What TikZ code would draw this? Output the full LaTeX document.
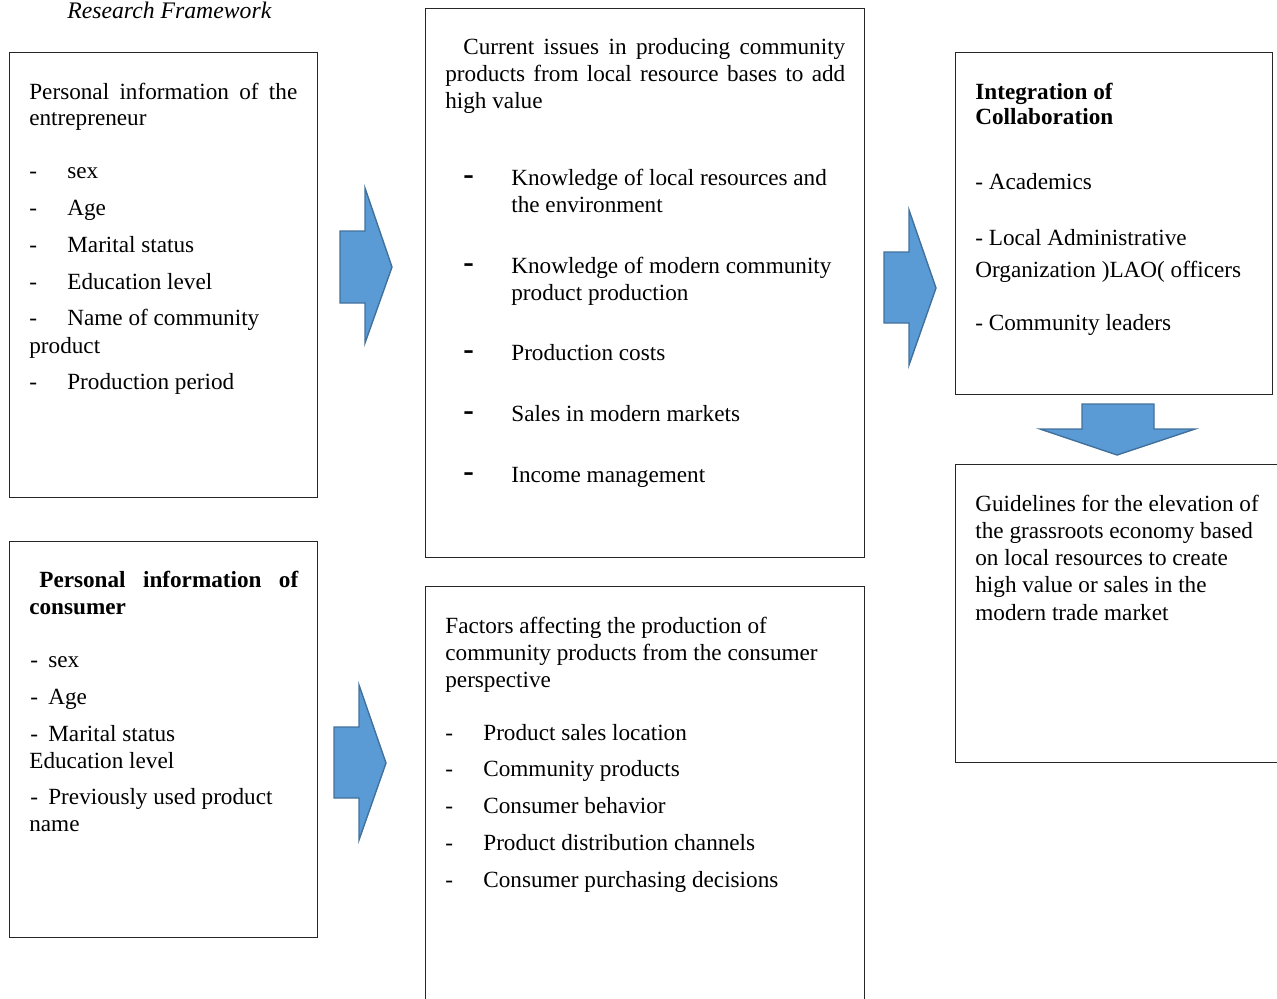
\documentclass[tikz,border=0pt]{standalone}
\usepackage{fontspec}
\setmainfont{Liberation Serif}
\definecolor{arrfill}{RGB}{91,155,213}
\definecolor{arredge}{RGB}{65,113,156}

\begin{document}
\begin{tikzpicture}[x=0.02cm,y=-0.02cm,
  box/.style={draw=black!85,line width=0.8pt,anchor=north west,inner sep=0},
  txt/.style={anchor=base west,inner sep=0,font=\fontsize{13.2}{15.4}\selectfont},
  btxt/.style={txt,font=\fontsize{13.2}{15.4}\selectfont\bfseries},
  bigdash/.style={anchor=base west,inner sep=0,font=\fontsize{18}{18}\selectfont\bfseries},
  blockarr/.style={fill=arrfill,draw=arredge,line width=0.8pt,line join=miter}]
\useasboundingbox (0,0) rectangle (1277,998);
\clip (0,0) rectangle (1277,998);

% Title
\node[txt,font=\fontsize{13.5}{15}\selectfont\itshape] (title) at (67,18) {Research Framework};

% Boxes
\node[box,minimum width=6.16cm,minimum height=8.9cm] (ent) at (9,52) {};
\node[box,minimum width=6.16cm,minimum height=7.92cm] (con) at (9,541) {};
\node[box,minimum width=8.78cm,minimum height=10.98cm] (iss) at (425,8) {};
\node[box,minimum width=8.78cm,minimum height=8.9cm] (fac) at (425,586) {};
\node[box,minimum width=6.34cm,minimum height=6.84cm] (integ) at (955,52) {};
\node[box,minimum width=6.8cm,minimum height=5.96cm] (guide) at (955,464) {};

% Entrepreneur
\node[txt] (enth1) at (29,99) {\makebox[5.36cm][s]{Personal information of the}};
\node[txt] (enth2) at (29,125) {entrepreneur};
\foreach \t/\y [count=\i] in {sex/178, Age/215, Marital status/252, Education level/289, Name of community/325, Production period/389} {
  \node[txt] (entd\i) at (29,\y) {-};
  \node[txt] (ent\i) at (67,\y) {\t};
}
\node[txt] (ent7) at (29,353) {product};

% Consumer
\node[txt] (conh1) at (39,587) {\makebox[5.18cm][s]{\bfseries Personal information of}};
\node[btxt] (conh2) at (29,614) {consumer};
\foreach \t/\y [count=\i] in {sex/667, Age/704, Marital status/741, Previously used product/804} {
  \node[txt] (cond\i) at (30,\y) {-};
  \node[txt] (con\i) at (48,\y) {\t};
}
\node[txt] (con5) at (29,768) {Education level};
\node[txt] (con6) at (29,831) {name};

% Current issues
\node[txt] (issh1) at (463,54) {\makebox[7.64cm][s]{Current issues in producing community}};
\node[txt] (issh2) at (445,81) {\makebox[8cm][s]{products from local resource bases to add}};
\node[txt] (issh3) at (445,108) {high value};
\foreach \t/\y [count=\i] in {Knowledge of local resources and/185, Knowledge of modern community/273, Production costs/360, Sales in modern markets/421, Income management/482} {
  \node[bigdash] (issd\i) at (463,\y-1) {-};
  \node[txt] (iss\i) at (511,\y) {\t};
}
\node[txt] (iss6) at (511,212) {the environment};
\node[txt] (iss7) at (511,300) {product production};

% Consumer factors
\foreach \t/\y [count=\i] in {Factors affecting the production of/633, community products from the consumer/660, perspective/687}
  \node[txt] (fach\i) at (445,\y) {\t};
\foreach \t/\y [count=\i] in {Product sales location/740, Community products/776, Consumer behavior/813, Product distribution channels/850, Consumer purchasing decisions/887} {
  \node[txt] (facd\i) at (445,\y) {-};
  \node[txt] (fac\i) at (483,\y) {\t};
}

% Integration
\node[btxt] (integh1) at (975,99) {Integration of};
\node[btxt] (integh2) at (975,124) {Collaboration};
\node[txt] (integ1) at (975,189) {- Academics};
\node[txt] (integ2) at (975,245) {- Local Administrative};
\node[txt] (integ3) at (975,277) {Organization )LAO( officers};
\node[txt] (integ4) at (975,330) {- Community leaders};

% Guidelines
\foreach \t/\y [count=\i] in {Guidelines for the elevation of/511, the grassroots economy based/538, on local resources to create/565, high value or sales in the/592, modern trade market/620}
  \node[txt] (guide\i) at (975,\y) {\t};

% Block arrows
\draw[blockarr] (340,231) -- (365,231) -- (365,188) -- (392,267) -- (365,343) -- (365,303) -- (340,303) -- cycle;
\draw[blockarr] (334,727) -- (359,727) -- (359,685) -- (386,763) -- (359,840) -- (359,798) -- (334,798) -- cycle;
\draw[blockarr] (884,252) -- (909,252) -- (909,210) -- (936,288) -- (909,365) -- (909,323) -- (884,323) -- cycle;
\draw[blockarr] (1082,404) -- (1154,404) -- (1154,429) -- (1195,429) -- (1117,455) -- (1040,429) -- (1082,429) -- cycle;
\end{tikzpicture}
\end{document}
